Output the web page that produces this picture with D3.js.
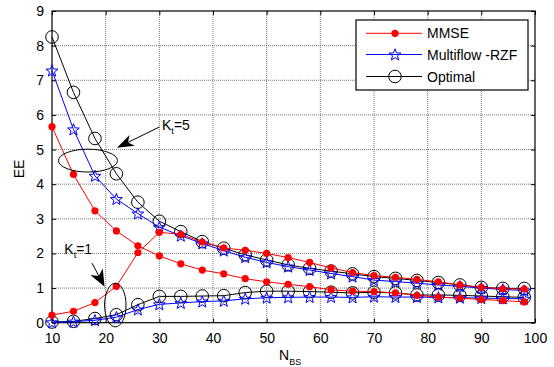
<!DOCTYPE html>
<html>
<head>
<meta charset="utf-8">
<script src="https://cdn.jsdelivr.net/npm/d3@7"></script>
<style>
  body { margin: 0; background: #fff; }
  svg { display: block; font-family: "Liberation Sans", Arial, sans-serif; }
</style>
</head>
<body>
<div id="chart"></div>
<script>
// EE versus N_BS, Kt=5 and Kt=1 curves

var nbs = [10, 14, 18, 22, 26, 30, 34, 38, 42, 46, 50, 54, 58, 62, 66, 70, 74, 78, 82, 86, 90, 94, 98];

// Kt = 5
var mmse5 = [5.66, 4.28, 3.23, 2.65, 2.22, 1.93, 1.70, 1.52, 1.41, 1.27, 1.18, 1.11, 1.04, 0.95, 0.91, 0.90, 0.86, 0.79, 0.74, 0.71, 0.67, 0.64, 0.60];
var rzf5 = [7.28, 5.58, 4.24, 3.57, 3.15, 2.76, 2.51, 2.29, 2.08, 1.89, 1.74, 1.62, 1.52, 1.42, 1.33, 1.23, 1.19, 1.14, 1.09, 1.05, 1.00, 0.96, 0.93];
var opt5 = [8.25, 6.65, 5.32, 4.30, 3.48, 2.93, 2.63, 2.34, 2.15, 1.96, 1.81, 1.67, 1.57, 1.49, 1.41, 1.33, 1.28, 1.22, 1.16, 1.09, 1.02, 0.99, 0.99];

// Kt = 1
var mmse1 = [0.22, 0.33, 0.58, 1.05, 2.02, 2.61, 2.55, 2.33, 2.16, 2.09, 2.00, 1.88, 1.74, 1.58, 1.45, 1.36, 1.31, 1.25, 1.18, 1.09, 1.02, 0.98, 0.97];
var rzf1 = [0.01, 0.03, 0.07, 0.16, 0.38, 0.53, 0.57, 0.61, 0.63, 0.69, 0.72, 0.73, 0.74, 0.74, 0.73, 0.75, 0.74, 0.74, 0.73, 0.72, 0.71, 0.70, 0.69];
var opt1 = [0.02, 0.04, 0.12, 0.23, 0.52, 0.76, 0.76, 0.77, 0.78, 0.87, 0.91, 0.91, 0.90, 0.88, 0.86, 0.88, 0.86, 0.80, 0.80, 0.79, 0.77, 0.75, 0.73];

var xTicks = [10, 20, 30, 40, 50, 60, 70, 80, 90, 100];
var yTicks = [0, 1, 2, 3, 4, 5, 6, 7, 8, 9];

var legendNames = ["MMSE", "Multiflow -RZF", "Optimal"];

(function() {

    var width = 554;
    var height = 367;

    var svg = d3.select("#chart")
        .append("svg")
        .attr("width", width)
        .attr("height", height);

    svg.append("rect")
        .attr("width", width)
        .attr("height", height)
        .attr("fill", "#ffffff");

    var x = d3.scaleLinear().domain([10, 100]).range([52, 535]);
    var y = d3.scaleLinear().domain([0, 9]).range([322.7, 11]);

    // Grid
    var grid = svg.append("g");

    grid.selectAll(".gx")
        .data(xTicks.slice(1, -1))
        .enter()
        .append("line")
        .attr("x1", function(d) { return x(d); })
        .attr("x2", function(d) { return x(d); })
        .attr("y1", y(9))
        .attr("y2", y(0))
        .attr("stroke", "#555555")
        .attr("stroke-width", 0.8)
        .attr("stroke-dasharray", "1,1");

    grid.selectAll(".gy")
        .data(yTicks.slice(1, -1))
        .enter()
        .append("line")
        .attr("x1", x(10))
        .attr("x2", x(100))
        .attr("y1", function(d) { return y(d); })
        .attr("y2", function(d) { return y(d); })
        .attr("stroke", "#555555")
        .attr("stroke-width", 0.8)
        .attr("stroke-dasharray", "1,1");

    // Axes with inner ticks
    var xAxisB = d3.axisBottom(x).tickValues(xTicks).tickSize(-4).tickPadding(10).tickFormat(d3.format("d"));
    var xAxisT = d3.axisTop(x).tickValues(xTicks).tickSize(-4).tickFormat("");
    var yAxisL = d3.axisLeft(y).tickValues(yTicks).tickSize(-4).tickPadding(8).tickFormat(d3.format("d"));
    var yAxisR = d3.axisRight(y).tickValues(yTicks).tickSize(-4).tickFormat("");

    function styleAxis(g) {
        g.select(".domain").remove();
        g.selectAll(".tick line").attr("stroke", "#000");
        g.selectAll("text")
            .attr("fill", "#000")
            .attr("font-size", "14px")
            .attr("font-family", "Liberation Sans, Arial, sans-serif");
    }

    svg.append("g").attr("transform", "translate(0," + y(0) + ")").call(xAxisB).call(styleAxis);
    svg.append("g").attr("transform", "translate(0," + y(9) + ")").call(xAxisT).call(styleAxis);
    svg.append("g").attr("transform", "translate(" + x(10) + ",0)").call(yAxisL).call(styleAxis);
    svg.append("g").attr("transform", "translate(" + x(100) + ",0)").call(yAxisR).call(styleAxis);

    svg.append("rect")
        .attr("x", x(10))
        .attr("y", y(9))
        .attr("width", x(100) - x(10))
        .attr("height", y(0) - y(9))
        .attr("fill", "none")
        .attr("stroke", "#000")
        .attr("stroke-width", 1.2);

    // Axis titles
    svg.append("text")
        .attr("transform", "translate(24,169) rotate(-90)")
        .attr("text-anchor", "middle")
        .attr("font-size", "14px")
        .attr("fill", "#000")
        .text("EE");

    var xt = svg.append("text")
        .attr("x", 279)
        .attr("y", 360)
        .attr("font-size", "14px")
        .attr("fill", "#000");
    xt.append("tspan").text("N");
    xt.append("tspan").attr("dy", 5).attr("font-size", "9px").text("BS");

    // Markers
    function starPath(r) {
        var pts = [];
        for (var i = 0; i < 10; i++) {
            var rr = i % 2 === 0 ? r : r * 0.42;
            var a = -Math.PI / 2 + i * Math.PI / 5;
            pts.push([rr * Math.cos(a), rr * Math.sin(a)]);
        }
        return "M" + pts.map(function(p) { return p[0].toFixed(2) + "," + p[1].toFixed(2); }).join("L") + "Z";
    }

    function drawMarker(g, type, cx, cy) {
        if (type === "mmse") {
            g.append("circle").attr("cx", cx).attr("cy", cy).attr("r", 3.6).attr("fill", "#ff0000");
        } else if (type === "rzf") {
            g.append("path")
                .attr("d", starPath(6.2))
                .attr("transform", "translate(" + cx + "," + (cy + 0.5) + ")")
                .attr("fill", "none")
                .attr("stroke", "#0000ff")
                .attr("stroke-width", 1);
        } else {
            g.append("circle").attr("cx", cx).attr("cy", cy).attr("r", 6.3)
                .attr("fill", "none").attr("stroke", "#000").attr("stroke-width", 1);
        }
    }

    var colors = { mmse: "#ff0000", rzf: "#0000ff", opt: "#000000" };

    var line = d3.line()
        .x(function(d) { return x(d[0]); })
        .y(function(d) { return y(d[1]); });

    var series = [
        { type: "opt", values: opt5 },
        { type: "opt", values: opt1 },
        { type: "rzf", values: rzf5 },
        { type: "rzf", values: rzf1 },
        { type: "mmse", values: mmse5 },
        { type: "mmse", values: mmse1 }
    ];

    var plot = svg.append("g");

    series.forEach(function(s) {
        var pts = nbs.map(function(n, i) { return [n, s.values[i]]; });
        plot.append("path")
            .datum(pts)
            .attr("d", line)
            .attr("fill", "none")
            .attr("stroke", colors[s.type])
            .attr("stroke-width", 1);
        pts.forEach(function(p) {
            drawMarker(plot, s.type, x(p[0]), y(p[1]));
        });
    });

    // Annotations
    var ann = svg.append("g");

    function arrow(x1, y1, x2, y2, half) {
        var px1 = x(x1), py1 = y(y1), px2 = x(x2), py2 = y(y2);
        var ang = Math.atan2(py2 - py1, px2 - px1);
        var len = 17;
        var bx = px2 - len * Math.cos(ang), by = py2 - len * Math.sin(ang);
        var nx = -Math.sin(ang), ny = Math.cos(ang);
        var mx = px2 - len * 0.72 * Math.cos(ang), my = py2 - len * 0.72 * Math.sin(ang);
        ann.append("line")
            .attr("x1", px1).attr("y1", py1).attr("x2", mx).attr("y2", my)
            .attr("stroke", "#000").attr("stroke-width", 1);
        ann.append("path")
            .attr("d", "M" + px2 + "," + py2 +
                "L" + (bx + nx * half) + "," + (by + ny * half) +
                "L" + mx + "," + my +
                "L" + (bx - nx * half) + "," + (by - ny * half) + "Z")
            .attr("fill", "#000");
    }

    function ellipse(cxv, cyv, rxv, ryv) {
        ann.append("ellipse")
            .attr("cx", x(cxv))
            .attr("cy", y(cyv))
            .attr("rx", x(cxv + rxv) - x(cxv))
            .attr("ry", y(cyv) - y(cyv + ryv))
            .attr("fill", "none")
            .attr("stroke", "#000")
            .attr("stroke-width", 1);
    }

    function label(xv, yv, sub, rest) {
        var t = ann.append("text")
            .attr("x", x(xv))
            .attr("y", y(yv))
            .attr("font-size", "14px")
            .attr("fill", "#000");
        t.append("tspan").text("K");
        t.append("tspan").attr("dy", 4).attr("font-size", "9px").text(sub);
        t.append("tspan").attr("dy", -4).text(rest);
    }

    // Kt = 5
    ellipse(16.7, 4.68, 5.5, 0.33);
    arrow(30.0, 5.65, 22.1, 5.05, 6);
    label(30.5, 5.55, "t", "=5");

    // Kt = 1
    ellipse(21.8, 0.51, 2.0, 0.63);
    arrow(17.45, 1.72, 19.8, 1.04, 7);
    label(12.3, 1.98, "t", "=1");

    // Legend
    var lg = svg.append("g");
    lg.append("rect")
        .attr("x", 356).attr("y", 20)
        .attr("width", 172).attr("height", 70)
        .attr("fill", "#ffffff")
        .attr("stroke", "#000")
        .attr("stroke-width", 1.2);

    var types = ["mmse", "rzf", "opt"];
    var rowY = [33.3, 54.5, 76.5];

    types.forEach(function(t, i) {
        lg.append("line")
            .attr("x1", 366).attr("x2", 422)
            .attr("y1", rowY[i]).attr("y2", rowY[i])
            .attr("stroke", colors[t])
            .attr("stroke-width", 1);
        drawMarker(lg, t, 395, rowY[i]);
        lg.append("text")
            .attr("x", 427)
            .attr("y", rowY[i] + 5)
            .attr("font-size", "14px")
            .attr("fill", "#000")
            .text(legendNames[i]);
    });

})();
</script>
</body>
</html>
